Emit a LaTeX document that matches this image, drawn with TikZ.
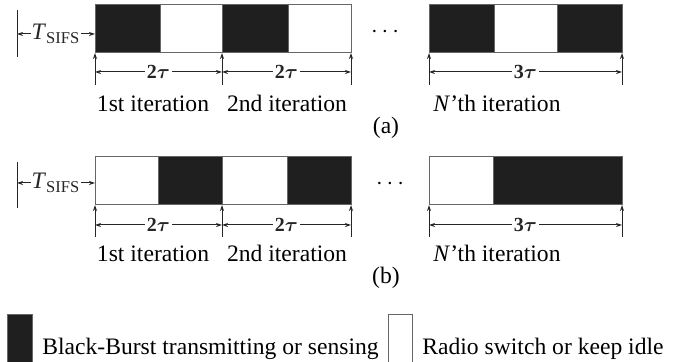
\documentclass[tikz,border=0pt]{standalone}
\usepackage{fontspec}
\setmainfont{Liberation Serif}
\usepackage{bm}
\usetikzlibrary{arrows.meta, calc}

\tikzset{
  burst/.style={fill=black!88, draw=black!60, line width=0.5pt},
  idle/.style={fill=white, draw=black!60, line width=0.5pt},
  dim/.style={line width=0.5pt, black!85},
  dimlabel/.style={fill=white, inner sep=1pt, font=\bfseries},
  sifs/.style={fill=white, inner sep=0.5pt},
}

\begin{document}
\begin{tikzpicture}[x=0.5pt, y=-0.5pt, >={Stealth[length=3pt, width=2pt]}, font=\fontsize{11.8}{14}\selectfont]
    \useasboundingbox (0,0) rectangle (679,362);

    % Row (a): burst slot first
    \foreach \xs/\xe/\kind in {95/160/burst, 160/222/idle, 222/288/burst, 288/351/idle, 429/494/burst, 494/557/idle, 557/622/burst}
        \draw[\kind] (\xs,5) rectangle (\xe,53);
    \foreach \x [count=\i from 0] in {95,222,351,429,622}
        \coordinate (a\i) at (\x,53);
    \foreach \i in {0,...,4}
        \draw[dim,<-] (a\i) -- ++(0,32);

    % Iteration lengths (a)
    \draw[dim,<->] ($(a0)+(0,19)$) -- node[dimlabel] (ta1) {2$\bm{\tau}$} ($(a1)+(0,19)$);
    \draw[dim,<->] ($(a1)+(0,19)$) -- node[dimlabel] (ta2) {2$\bm{\tau}$} ($(a2)+(0,19)$);
    \draw[dim,<->] ($(a3)+(0,19)$) -- node[dimlabel] (ta3) {3$\bm{\tau}$} ($(a4)+(0,19)$);

    % SIFS gap (a)
    \coordinate (sa) at (17,34);
    \draw[dim] (17,10) -- (17,57);
    \draw[dim,<->] (sa) -- node[sifs] (tsa) {\textit{T}\textsubscript{SIFS}} (95,34);

    \node (dotsa) at (385,32) {$\cdots$};
    \node[anchor=base] (it1a) at (153,112) {1st iteration};
    \node[anchor=base] (it2a) at (287,112) {2nd iteration};
    \node[anchor=base] (itNa) at (497,112) {\textit{N}'th iteration};
    \node[anchor=base] (capa) at (386,134) {(a)};

    % Row (b): idle slot first
    \foreach \xs/\xe/\kind in {95/158/idle, 158/222/burst, 222/287/idle, 287/351/burst, 429/493/idle, 493/622/burst}
        \draw[\kind] (\xs,157) rectangle (\xe,205);
    \foreach \x [count=\i from 0] in {95,222,351,429,622}
        \coordinate (b\i) at (\x,205);
    \foreach \i in {0,...,4}
        \draw[dim,<-] (b\i) -- ++(0,32);

    % Iteration lengths (b)
    \draw[dim,<->] ($(b0)+(0,20)$) -- node[dimlabel] (tb1) {2$\bm{\tau}$} ($(b1)+(0,20)$);
    \draw[dim,<->] ($(b1)+(0,20)$) -- node[dimlabel] (tb2) {2$\bm{\tau}$} ($(b2)+(0,20)$);
    \draw[dim,<->] ($(b3)+(0,20)$) -- node[dimlabel] (tb3) {3$\bm{\tau}$} ($(b4)+(0,20)$);

    % SIFS gap (b)
    \coordinate (sb) at (17,183);
    \draw[dim] (17,162) -- (17,208);
    \draw[dim,<->] (sb) -- node[sifs] (tsb) {\textit{T}\textsubscript{SIFS}} (95,183);

    \node (dotsb) at (390,184) {$\cdots$};
    \node[anchor=base] (it1b) at (153,262) {1st iteration};
    \node[anchor=base] (it2b) at (287,262) {2nd iteration};
    \node[anchor=base] (itNb) at (497,262) {\textit{N}'th iteration};
    \node[anchor=base] (capb) at (386,284) {(b)};

    % Legend
    \draw[burst] (7,315) rectangle (32,366);
    \node[anchor=base west, inner sep=0pt] (legburst) at (42,355) {Black-Burst transmitting or sensing};
    \draw[idle] (388,315) rectangle (412,366);
    \node[anchor=base west, inner sep=0pt] (legidle) at (422,355) {Radio switch or keep idle};
\end{tikzpicture}
\end{document}
